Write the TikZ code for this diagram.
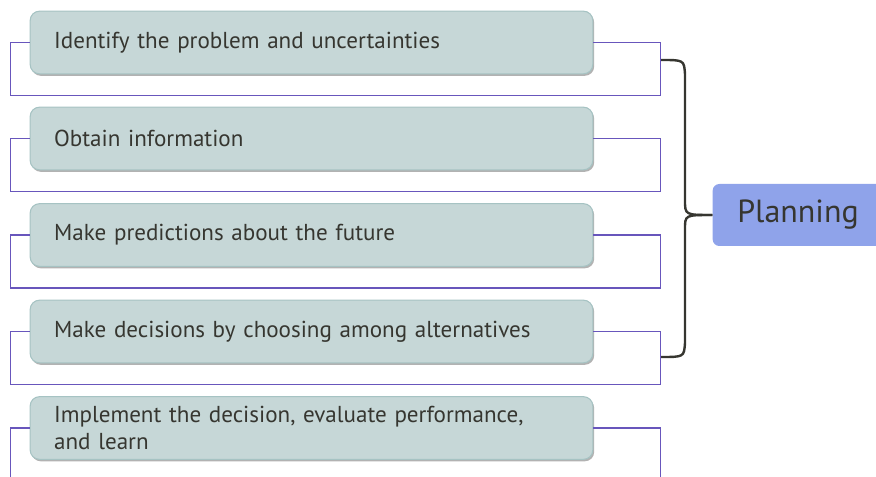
\documentclass[tikz,border=0pt]{standalone}
\usepackage{fontspec}
\setmainfont{PT Sans}
\usetikzlibrary{shadows}
\definecolor{PlnTeal}{RGB}{198,215,215}
\definecolor{PlnTealEdge}{RGB}{166,195,195}
\definecolor{PlnPurple}{RGB}{104,86,188}
\definecolor{PlnBlue}{RGB}{143,163,234}
\definecolor{PlnInk}{RGB}{54,54,48}
\tikzset{
  pln/stepbox/.style={
    draw=PlnTealEdge,
    thick,
    rounded corners=7pt,
    fill=PlnTeal,
    text=PlnInk,
    align=left,
    text width=386pt,
    inner xsep=18pt,
    minimum height=47pt,
    font=\fontsize{17.3}{20}\selectfont,
    drop shadow={shadow xshift=1pt, shadow yshift=-1.5pt, fill=black, opacity=0.3}
  },
  pln/goal/.style={
    fill=PlnBlue,
    rounded corners=5pt,
    text=PlnInk,
    minimum width=128pt,
    minimum height=46.5pt,
    font=\fontsize{24}{28}\selectfont
  },
  pln/frame/.style={draw=PlnPurple, line width=1pt},
  pln/brace/.style={draw=PlnInk, line width=1.8pt}
}

\begin{document}
\begin{tikzpicture}[x=0.75pt,y=-0.75pt]
  \useasboundingbox (0,0) rectangle (876,477);
  % the five steps, each boxed in its own frame
  \foreach \txt/\y [count=\i] in {
    Identify the problem and uncertainties/42.5,
    Obtain information/138.5,
    Make predictions about the future/235,
    Make decisions by choosing among alternatives/331.5,
    {Implement the decision, evaluate performance,\\and learn}/428}
  {\node[pln/stepbox] (s\i) at (311.5,\y) {\txt};
   \draw[pln/frame] (s\i.west) -- ++(-19,0) -- ++(0,53) -- ++(650,0) -- ++(0,-53) -- (s\i.east);}

  \node[pln/goal] (plan) at (798,215) {Planning};

  % brace from the first four frames to the goal
  \coordinate (brtop) at (661,60);
  \coordinate (brbot) at (661,357);
  \draw[pln/brace] (brtop) .. controls (684,60) .. (685,74) -- (685,200) .. controls (685,215) .. (plan.west);
  \draw[pln/brace] (plan.west) .. controls (685,215) .. (685,229) -- (685,343) .. controls (684,357) .. (brbot);
\end{tikzpicture}
\end{document}
